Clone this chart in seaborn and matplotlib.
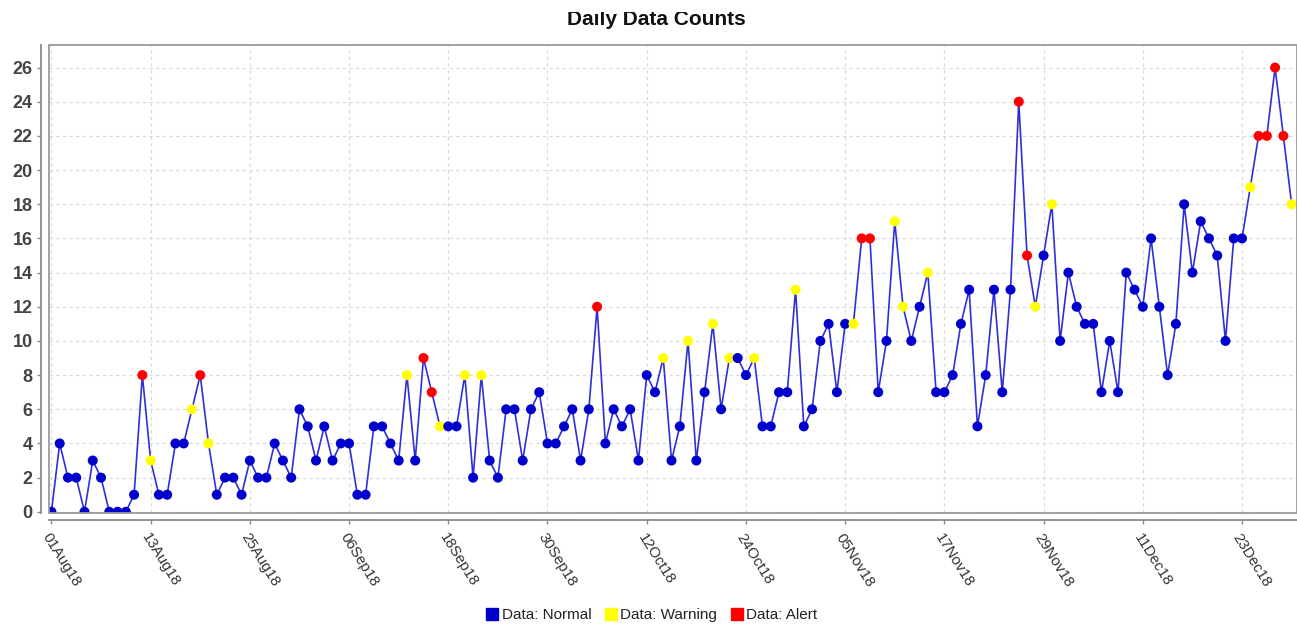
import matplotlib
matplotlib.use("Agg")
import matplotlib.pyplot as plt
import matplotlib.dates as mdates
import matplotlib.patches as mpatches
from matplotlib.lines import Line2D
from matplotlib.transforms import Bbox
import seaborn as sns
import pandas as pd
import numpy as np

# ---------------- data ----------------
start_date = "2018-08-01"
end_date = "2018-12-29"

counts_aug = [0, 4, 2, 2, 0, 3, 2, 0, 0, 0, 1, 8, 3, 1, 1, 4, 4, 6, 8, 4, 1, 2, 2, 1, 3, 2, 2, 4, 3, 2, 6]
status_aug = "NNNNNNNNNNNAWNNNNWAWNNNNNNNNNNN"
counts_sep = [5, 3, 5, 3, 4, 4, 1, 1, 5, 5, 4, 3, 8, 3, 9, 7, 5, 5, 5, 8, 2, 8, 3, 2, 6, 6, 3, 6, 7, 4]
status_sep = "NNNNNNNNNNNNWNAAWNNWNWNNNNNNNN"
counts_oct = [4, 5, 6, 3, 6, 12, 4, 6, 5, 6, 3, 8, 7, 9, 3, 5, 10, 3, 7, 11, 6, 9, 9, 8, 9, 5, 5, 7, 7, 13, 5]
status_oct = "NNNNNANNNNNNNWNNWNNWNWNNWNNNNWN"
counts_nov = [6, 10, 11, 7, 11, 11, 16, 16, 7, 10, 17, 12, 10, 12, 14, 7, 7, 8, 11, 13, 5, 8, 13, 7, 13, 24, 15, 12, 15, 18]
status_nov = "NNNNNWAANNWWNNWNNNNNNNNNNAAWNW"
counts_dec = [10, 14, 12, 11, 11, 7, 10, 7, 14, 13, 12, 16, 12, 8, 11, 18, 14, 17, 16, 15, 10, 16, 16, 19, 22, 22, 26, 22, 18]
status_dec = "NNNNNNNNNNNNNNNNNNNNNNNWAAAAW"

status_names = {"N": "Data: Normal", "W": "Data: Warning", "A": "Data: Alert"}
status_colors = {"Data: Normal": "#0000cc", "Data: Warning": "#ffff00", "Data: Alert": "#ff0000"}
tick_dates = ["2018-08-01", "2018-08-13", "2018-08-25", "2018-09-06", "2018-09-18", "2018-09-30",
              "2018-10-12", "2018-10-24", "2018-11-05", "2018-11-17", "2018-11-29", "2018-12-11",
              "2018-12-23"]
y_ticks = list(range(0, 27, 2))

counts = counts_aug + counts_sep + counts_oct + counts_nov + counts_dec
status = status_aug + status_sep + status_oct + status_nov + status_dec
dates = pd.date_range(start_date, end_date, freq="D")
df = pd.DataFrame({"date": dates, "count": counts,
                   "status": [status_names[s] for s in status]})

# ---------------- figure ----------------
plt.rcParams["font.family"] = ["Liberation Sans", "DejaVu Sans"]
W, H = 1297, 626
fig = plt.figure(figsize=(W / 100, H / 100), dpi=100)
fig.patch.set_facecolor("white")
ax = fig.add_axes([49 / W, 113 / H, (W - 49) / W, (513 - 45) / H])
ax.set_facecolor("white")

sns.lineplot(data=df, x="date", y="count", color="#2f2fd8", linewidth=1.2, ax=ax, zorder=2)
sns.scatterplot(data=df, x="date", y="count", hue="status", palette=status_colors,
                s=52, linewidth=0, legend=False, ax=ax, zorder=3)

t0 = pd.Timestamp(start_date)
ax.set_xlim(t0 - pd.Timedelta(hours=7), t0 + pd.Timedelta(days=150.65))
ax.set_ylim(-0.07, 27.32)

ax.set_xticks(pd.to_datetime(tick_dates))
ax.xaxis.set_major_formatter(mdates.DateFormatter("%d%b%y"))
ax.set_yticks(y_ticks)

ax.grid(True, color="#d8d8d8", linestyle=(0, (3, 3)), linewidth=0.8)
ax.set_axisbelow(True)
ax.set_xlabel("")
ax.set_ylabel("")

for s in ["top", "right"]:
    ax.spines[s].set_visible(False)
for s in ["left", "bottom"]:
    ax.spines[s].set_color("#8a8a8a")
    ax.spines[s].set_linewidth(1.3)
ax.spines["left"].set_position(("outward", 5.8))
ax.spines["bottom"].set_position(("outward", 5.0))

frame = mpatches.Rectangle((0, 0), 1, 1, transform=ax.transAxes, fill=False,
                           edgecolor="#9a9a9a", linewidth=1.3, clip_on=False, zorder=4)
ax.add_patch(frame)

ax.tick_params(axis="y", length=3, width=1, color="#8a8a8a", pad=3,
               labelsize=13, labelcolor="#444444")
for lbl in ax.get_yticklabels():
    lbl.set_fontweight("bold")
ax.tick_params(axis="x", length=3, width=1, color="#8a8a8a", pad=5,
               labelsize=10.8, labelcolor="#333333")
for lbl in ax.get_xticklabels():
    lbl.set_rotation(-58)
    lbl.set_ha("left")
    lbl.set_va("top")
    lbl.set_rotation_mode("anchor")

title = fig.text(656 / W, 1 - 25 / H, "Daily Data Counts", ha="center", va="baseline",
                 fontsize=15, fontweight="bold", color="#111111")
title.set_clip_box(Bbox.from_extents(0, 0, W, H - 12))
title.set_clip_on(True)

handles = [Line2D([], [], marker="s", linestyle="none", color=status_colors[k],
                  markersize=8, label=k) for k in ["Data: Normal", "Data: Warning", "Data: Alert"]]
fig.legend(handles=handles, loc="center", bbox_to_anchor=(651 / W, 1 - 615 / H), ncol=3,
           frameon=False, fontsize=11, handletextpad=0.1, columnspacing=0.8,
           handlelength=1.0, labelcolor="#222222")

fig.savefig("out.png", dpi=100)
